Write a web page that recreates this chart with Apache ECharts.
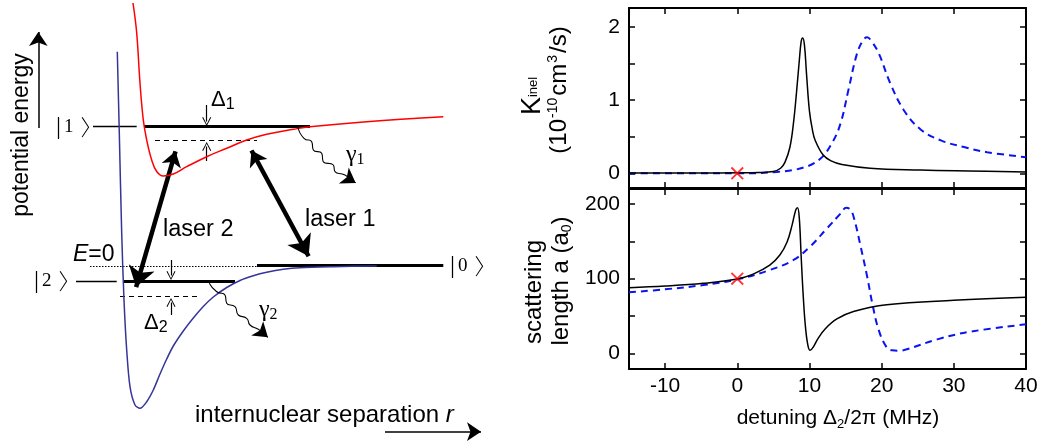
<!DOCTYPE html>
<html><head><meta charset="utf-8">
<script src="https://cdn.jsdelivr.net/npm/echarts@6/dist/echarts.min.js"></script>
<style>html,body{margin:0;padding:0;background:#fff}#c{width:1043px;height:441px}</style>
</head><body><div id="c"></div><script>
// ---------- right panels: data ----------
const xTicks = [-10, 0, 10, 20, 30, 40];
const kTickLabels = [0, 1, 2];
const kTicks = [0, 0.5, 1, 1.5, 2];
const aTickLabels = [0, 100, 200];
const aTicks = [0, 50, 100, 150, 200];

const kinelSolid = [[-15,0.005],[-10,0.005],[-5,0.006],[0,0.008],[3,0.012],[5,0.025],[6,0.07],[6.6,0.15],[7.3,0.36],[7.8,0.7],[8.2,1.1],[8.6,1.55],[8.85,1.8],[9.05,1.85],[9.3,1.76],[9.6,1.35],[10.0,0.85],[10.4,0.6],[10.8,0.45],[11.9,0.25],[13.0,0.17],[14.5,0.12],[18.4,0.07],[25.4,0.045],[32,0.032],[40,0.02]];
const kinelDashed = [[-15,0.0],[-5,0.0],[0,0.0],[5.5,0.02],[9.2,0.08],[11.5,0.2],[13.1,0.41],[14.3,0.68],[15.4,1.14],[16.6,1.64],[17.5,1.83],[18.0,1.86],[18.5,1.82],[19.6,1.64],[21.2,1.23],[23.1,0.86],[25.4,0.6],[28.2,0.45],[31.4,0.36],[34.6,0.29],[40,0.22]];
const scatSolid = [[-15,87.8],[-10,90],[-4.7,93.7],[0,99.5],[2.2,106],[4.5,118],[5.9,131.6],[6.9,149],[7.6,172],[8.1,192],[8.35,195],[8.6,180],[8.85,130],[9.15,75],[9.45,35],[9.8,10],[10.1,4],[10.5,8],[11.2,20],[12.2,33],[13.8,46],[16.1,56],[20.7,65],[30,71],[40,75]];
const scatDashed = [[-15,81.6],[-10,85.7],[-4.7,91.4],[0,99],[4.5,111.5],[7.8,125],[10.1,143],[12.4,167],[14.3,187],[15.1,195],[15.7,192],[16.2,180],[17.0,147],[18.0,102.5],[18.7,67],[19.6,31],[20.7,8],[21.5,4],[22.4,3.5],[23.5,5.4],[27.7,18.7],[32.3,29],[40,38.8]];
const kinelMarker = [[0, 0]];
const scatMarker = [[0, 100]];

// ---------- left schematic: positions (schematic units) ----------
const redCurve = [[133,3],[136.7,33],[140,83],[143.3,120],[146.7,140],[151.7,160],[156.7,171.5],[163.3,176],[173.3,174],[186.7,166.7],[206.7,156.7],[226.7,148.3],[246.7,140],[266.7,134.3],[293.3,129.3],[310,126.7],[366.7,121.7],[443.3,116.7]];
const blueCurve = [[117.3,51.7],[119.3,133],[121.7,233],[124,300],[126.7,350],[130,386.7],[135,405],[140,408.3],[146.7,401.7],[153.3,390],[160,374],[166.7,359],[173.3,346],[183.3,331],[193.3,318],[203.3,306.5],[213.3,297],[226.7,287.5],[240,280.5],[253.3,275.8],[266.7,272.3],[283.3,269.3],[300,267.7],[333.3,266.7],[376.7,266]];
const thinLevels = [[[93,126.7],[136.7,126.7]], [[76,281],[116.7,281]]];
const thickLevels = [[[144,126.7],[310,126.7]], [[124,281],[235,281]], [[257,265.7],[443.3,265.7]]];
const dashedLevels = [[[155,140],[257,140]], [[120,296.7],[200,296.7]]];
const zeroLine = [[[90,266],[257,266]]];
const laserArrows = [[[175.5,151.3],[136.1,287.1]], [[251.5,150.5],[308.6,256.2]]];
const deltaArrows = [[[206.7,105],[206.7,121.5]], [[206.7,161],[206.7,146.5]], [[171,260],[171,275.5]], [[171,315],[171,302.5]]];
const axisArrows = [[[38.3,128],[38.3,32]], [[385,431.7],[481,431.7]]];
const gamma1Wave = [[298,127.5],[304,138.3],[311.7,141.7],[313.3,150],[321.7,153.3],[323.3,161.7],[333.3,165],[335,171.7],[345,175],[348.3,178.3]];
const gamma2Wave = [[209.3,283.3],[216.7,291.7],[225,295],[226.7,303.3],[235,306.7],[238.3,315],[246.7,318.3],[250,325],[258.3,329.3],[261,331.5]];
const waveHeads = [[[348.3,178.3],[355.7,182.9]], [[261,331.5],[267.9,337.3]]];

const SANS = '"Liberation Sans", Arial, sans-serif';
const SERIF = '"Liberation Serif", "DejaVu Serif", serif';
const CJK = '"Noto Sans CJK SC", "Noto Sans CJK JP", sans-serif';

function segs(arr){ return arr.map(c => ({coords: c})); }

const chart = echarts.init(document.getElementById('c'), null, {renderer:'canvas'});

const frameAxis = (gi, pos, min, max, extra) => Object.assign({
  type:'value', gridIndex: gi, position: pos, min, max,
  axisLine:{show:true, onZero:false, lineStyle:{color:'#000', width:2}},
  splitLine:{show:false},
  axisLabel:{show:false},
  axisTick:{show:true, inside:true, length:6, lineStyle:{color:'#000', width:1.5}}
}, extra || {});

const tick = vals => ({show:true, inside:true, length:6, lineStyle:{color:'#000', width:1.5}, customValues: vals});
const lab = vals => ({show:true, customValues:vals, fontSize:21, fontFamily:SANS, color:'#000', margin:9});

const ketRich = {
  b:{fontSize:25, fontFamily:SERIF},
  n:{fontSize:19, fontFamily:SERIF, padding:[0,0,0,3]},
  k:{fontSize:22, fontFamily:CJK, fontWeight:300, padding:[0,0,0,7]}
};
const ket = (x, y, d) => ({type:'text', x, y, style:{text:'{b|\u007C}{n|'+d+'}{k|\u3009}', fill:'#000', textAlign:'left', textVerticalAlign:'middle', rich:ketRich}});

const option = {
  animation:false,
  backgroundColor:'#fff',
  grid:[
    {left:0, top:0, width:500, height:441, show:false},
    {left:629, top:8, width:397, height:180},
    {left:629, top:189, width:397, height:180}
  ],
  xAxis:[
    {type:'value', gridIndex:0, min:0, max:500, show:false},
    frameAxis(1,'bottom',-15,40,{axisTick:tick(xTicks)}),
    frameAxis(1,'top',-15,40,{axisTick:tick(xTicks)}),
    frameAxis(2,'bottom',-15,40,{axisTick:tick(xTicks), axisLabel:Object.assign(lab(xTicks),{margin:7})}),
    frameAxis(2,'top',-15,40,{axisTick:tick(xTicks)})
  ],
  yAxis:[
    {type:'value', gridIndex:0, min:0, max:441, inverse:true, show:false},
    frameAxis(1,'left',-0.2,2.26,{axisTick:tick(kTicks), axisLabel:lab(kTickLabels)}),
    frameAxis(1,'right',-0.2,2.26,{axisTick:tick(kTicks)}),
    frameAxis(2,'left',-21,220,{axisTick:tick(aTicks), axisLabel:lab(aTickLabels)}),
    frameAxis(2,'right',-21,220,{axisTick:tick(aTicks)})
  ],
  series:[
    // schematic
    {type:'line', xAxisIndex:0, yAxisIndex:0, data:redCurve, smooth:0.4, symbol:'none', lineStyle:{color:'#ff0000', width:1.5}},
    {type:'line', xAxisIndex:0, yAxisIndex:0, data:blueCurve, smooth:0.3, symbol:'none', lineStyle:{color:'#353599', width:1.5}},
    {type:'lines', coordinateSystem:'cartesian2d', xAxisIndex:0, yAxisIndex:0, data:segs(thinLevels), lineStyle:{color:'#000', width:1.3, opacity:1}},
    {type:'lines', coordinateSystem:'cartesian2d', xAxisIndex:0, yAxisIndex:0, data:segs(thickLevels), lineStyle:{color:'#000', width:3.2, opacity:1}},
    {type:'lines', coordinateSystem:'cartesian2d', xAxisIndex:0, yAxisIndex:0, data:segs(dashedLevels), lineStyle:{color:'#000', width:1.2, type:[5,4], opacity:1}},
    {type:'lines', coordinateSystem:'cartesian2d', xAxisIndex:0, yAxisIndex:0, data:segs(zeroLine), lineStyle:{color:'#000', width:1, type:[1.5,1.5], opacity:1}},
    {type:'lines', coordinateSystem:'cartesian2d', xAxisIndex:0, yAxisIndex:0, data:segs(laserArrows), symbol:['arrow','arrow'], symbolSize:[15,20], lineStyle:{color:'#000', width:4.5, opacity:1}},
    {type:'lines', coordinateSystem:'cartesian2d', xAxisIndex:0, yAxisIndex:0, data:segs(deltaArrows), symbol:['none','path://M5,0 L10,10 L9,10.6 L5,2 L1,10.6 L0,10 Z'], symbolSize:[10,9], lineStyle:{color:'#000', width:1.2, opacity:1}},
    {type:'lines', coordinateSystem:'cartesian2d', xAxisIndex:0, yAxisIndex:0, data:segs(axisArrows), symbol:['none','arrow'], symbolSize:[11,14], lineStyle:{color:'#000', width:1.5, opacity:1}},
    {type:'line', xAxisIndex:0, yAxisIndex:0, data:gamma1Wave, smooth:0.6, symbol:'none', lineStyle:{color:'#000', width:1.1}},
    {type:'line', xAxisIndex:0, yAxisIndex:0, data:gamma2Wave, smooth:0.6, symbol:'none', lineStyle:{color:'#000', width:1.1}},
    {type:'lines', coordinateSystem:'cartesian2d', xAxisIndex:0, yAxisIndex:0, data:segs(waveHeads), symbol:['none','arrow'], symbolSize:[11,14], lineStyle:{color:'#000', width:1.1, opacity:1}},
    // top panel
    {type:'line', xAxisIndex:1, yAxisIndex:1, data:kinelDashed, smooth:0.4, symbol:'none', lineStyle:{color:'#0a14f0', width:2, type:[7,5]}},
    {type:'line', xAxisIndex:1, yAxisIndex:1, data:kinelSolid, smooth:0.4, symbol:'none', lineStyle:{color:'#000', width:1.5}},
    {type:'scatter', xAxisIndex:1, yAxisIndex:1, data:kinelMarker, symbol:'path://M0,1 L1,0 L10,9 L9,10 Z M9,0 L10,1 L1,10 L0,9 Z', symbolSize:13, itemStyle:{color:'#ff0000'}, z:10},
    // bottom panel
    {type:'line', xAxisIndex:3, yAxisIndex:3, data:scatDashed, smooth:0.4, symbol:'none', lineStyle:{color:'#0a14f0', width:2, type:[7,5]}},
    {type:'line', xAxisIndex:3, yAxisIndex:3, data:scatSolid, smooth:0.4, symbol:'none', lineStyle:{color:'#000', width:1.5}},
    {type:'scatter', xAxisIndex:3, yAxisIndex:3, data:scatMarker, symbol:'path://M0,1 L1,0 L10,9 L9,10 Z M9,0 L10,1 L1,10 L0,9 Z', symbolSize:13, itemStyle:{color:'#ff0000'}, z:10}
  ],
  graphic:[
    {type:'text', x:22, y:135, rotation:Math.PI/2, style:{text:'potential energy', font:'23px '+SANS, fill:'#000', textAlign:'center', textVerticalAlign:'middle'}},
    {type:'text', x:195, y:415, style:{text:'{m|internuclear separation }{i|r}', fill:'#000', textAlign:'left', textVerticalAlign:'middle',
      rich:{m:{fontSize:24, fontFamily:SANS}, i:{fontSize:24, fontFamily:SANS, fontStyle:'italic'}}}},
    {type:'text', x:163, y:230, style:{text:'laser 2', font:'23.5px '+SANS, fill:'#000', textAlign:'left', textVerticalAlign:'middle'}},
    {type:'text', x:305, y:220, style:{text:'laser 1', font:'23.5px '+SANS, fill:'#000', textAlign:'left', textVerticalAlign:'middle'}},
    {type:'text', x:73, y:255, style:{text:'{i|E}{m|=0}', fill:'#000', textAlign:'left', textVerticalAlign:'middle',
      rich:{m:{fontSize:23, fontFamily:SANS}, i:{fontSize:23, fontFamily:SANS, fontStyle:'italic'}}}},
    ket(56, 127, '1'),
    ket(34, 281, '2'),
    ket(450, 266, '0'),
    {type:'text', x:211, y:100, style:{text:'{d|\u0394}{s|1}', fill:'#000', textAlign:'left', textVerticalAlign:'middle',
      rich:{d:{fontSize:22, fontFamily:SANS}, s:{fontSize:16, fontFamily:SANS, verticalAlign:'bottom', padding:[10,0,0,0]}}}},
    {type:'text', x:144, y:323, style:{text:'{d|\u0394}{s|2}', fill:'#000', textAlign:'left', textVerticalAlign:'middle',
      rich:{d:{fontSize:22, fontFamily:SANS}, s:{fontSize:16, fontFamily:SANS, verticalAlign:'bottom', padding:[10,0,0,0]}}}},
    {type:'text', x:346, y:155, style:{text:'{d|\u03B3}{s|1}', fill:'#000', textAlign:'left', textVerticalAlign:'middle',
      rich:{d:{fontSize:24, fontFamily:SERIF}, s:{fontSize:16, fontFamily:SERIF, verticalAlign:'bottom', padding:[10,0,0,0]}}}},
    {type:'text', x:259, y:310, style:{text:'{d|\u03B3}{s|2}', fill:'#000', textAlign:'left', textVerticalAlign:'middle',
      rich:{d:{fontSize:24, fontFamily:SERIF}, s:{fontSize:16, fontFamily:SERIF, verticalAlign:'bottom', padding:[10,0,0,0]}}}},
    // right panel labels
    {type:'text', x:533, y:96, rotation:Math.PI/2, style:{text:'{m|K}{s|inel}', fill:'#000', textAlign:'center', textVerticalAlign:'middle',
      rich:{m:{fontSize:27, fontFamily:SANS}, s:{fontSize:13, fontFamily:SANS}}}},
    {type:'text', x:559, y:90, rotation:Math.PI/2, style:{text:'{m|(10}{p|-10}{m|cm}{p|3}{m|/s)}', fill:'#000', textAlign:'center', textVerticalAlign:'middle',
      rich:{m:{fontSize:24, fontFamily:SANS}, p:{fontSize:14, fontFamily:SANS, verticalAlign:'top', padding:[0,2,12,1]}}}},
    {type:'text', x:534, y:292, rotation:Math.PI/2, style:{text:'scattering', font:'24px '+SANS, fill:'#000', textAlign:'center', textVerticalAlign:'middle'}},
    {type:'text', x:561, y:281, rotation:Math.PI/2, style:{text:'{m|length a (a}{s|0}{m|)}', fill:'#000', textAlign:'center', textVerticalAlign:'middle',
      rich:{m:{fontSize:24, fontFamily:SANS}, s:{fontSize:14, fontFamily:SANS, verticalAlign:'bottom', padding:[12,0,0,0]}}}},
    {type:'text', x:838, y:418, style:{text:'{m|detuning \u0394}{s|2}{m|/2\u03C0 (MHz)}', fill:'#000', textAlign:'center', textVerticalAlign:'middle',
      rich:{m:{fontSize:21, fontFamily:SANS}, s:{fontSize:13, fontFamily:SANS, verticalAlign:'bottom', padding:[12,0,0,0]}}}}
  ]
};
chart.setOption(option);
</script></body></html>
